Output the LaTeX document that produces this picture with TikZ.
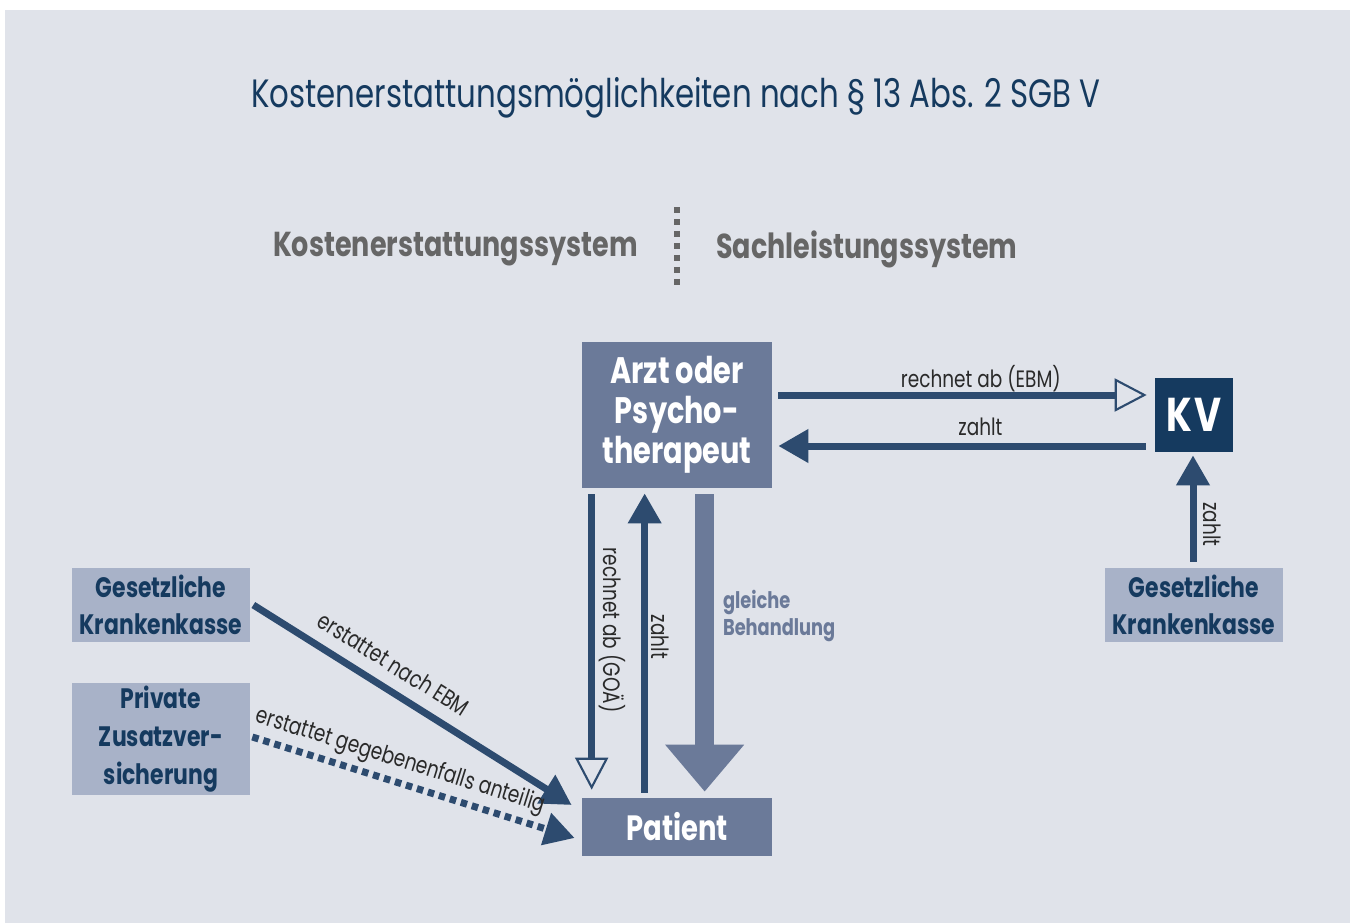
\documentclass[tikz,border=0pt]{standalone}
\usepackage{fontspec}
\setmainfont{Poppins}[FakeStretch=0.78]
\usetikzlibrary{arrows.meta,calc}
\definecolor{bggray}{HTML}{E0E3EA}
\definecolor{navy}{HTML}{153A5F}
\definecolor{arrowblue}{HTML}{2D4B6F}
\definecolor{slate}{HTML}{6B7A99}
\definecolor{lightslate}{HTML}{A8B2C8}
\definecolor{headgray}{HTML}{666666}
\definecolor{lblgray}{HTML}{2A2A2A}

\begin{document}
\begin{tikzpicture}[x=0.02cm,y=-0.02cm,
    box/.style={fill=slate,text=white,font=\bfseries\fontsize{21}{22.7}\selectfont,align=center,inner sep=0pt},
    kasse/.style={fill=lightslate,text=navy,font=\bfseries\fontsize{16}{21.4}\selectfont,align=center,inner sep=0pt,minimum width=3.56cm},
    lbl/.style={text=lblgray,font=\fontsize{13.5}{15}\selectfont,inner sep=2pt},
    flow/.style={draw=arrowblue,line width=0.14cm},
    fullhead/.style={-{Triangle[length=0.6cm,width=0.64cm]}},
    openhead/.style={-{Triangle[open,length=0.64cm,width=0.66cm,line width=1.2pt]}}]
  \fill[bggray] (5,10) rectangle (1350,923);
  \useasboundingbox (0,0) rectangle (1350,923);

  \node[text=navy,font=\fontsize{22.5}{26}\selectfont] (title) at (676,98) {Kostenerstattungsmöglichkeiten nach § 13 Abs. 2 SGB V};
  \node[text=headgray,font=\bfseries\fontsize{19.7}{22}\selectfont,anchor=east,inner sep=0pt] (kesys) at (638,249) {Kostenerstattungssystem};
  \node[text=headgray,font=\bfseries\fontsize{19.7}{22}\selectfont,anchor=west,inner sep=0pt] (slsys) at (716,249) {Sachleistungssystem};
  \draw[headgray,line width=0.12cm,dash pattern=on 0.12cm off 0.12cm] (677,207) -- (677,287);

  \node[box,minimum width=3.8cm,minimum height=2.92cm] (arzt) at (677,415) {Arzt oder\\Psycho-\\therapeut};
  \node[box,fill=navy,font=\bfseries\fontsize{27}{30}\selectfont,minimum width=1.56cm,minimum height=1.48cm] (kv) at (1194,415) {K\kern1.5pt V};
  \node[box,font=\bfseries\fontsize{20}{22.7}\selectfont,minimum width=3.8cm,minimum height=1.16cm] (patient) at (677,827) {Patient};
  \node[kasse,minimum height=1.48cm] (gkvr) at (1194,605) {Gesetzliche\\Krankenkasse};
  \node[kasse,minimum height=1.48cm] (gkvl) at (161,605) {Gesetzliche\\Krankenkasse};
  \node[kasse,minimum height=2.24cm] (pzv) at (161,739) {Private\\Zusatzver-\\sicherung};

  % Sachleistung
  \draw[flow,openhead] ($(arzt.east)+(6,-20)$) -- ($(kv.west)+(-8,-20)$)
    node[lbl,pos=0.55,above,text depth=0pt] {rechnet ab (EBM)};
  \draw[flow,fullhead] ($(kv.west)+(-9,31)$) -- ($(arzt.east)+(6,31)$)
    node[lbl,pos=0.45,above,yshift=2pt] {zahlt};
  \draw[flow,fullhead] ($(gkvr.north)+(-1,-6)$) -- ($(kv.south)+(-1,3)$)
    node[lbl,pos=0.35,rotate=-90,anchor=south,yshift=2pt] {zahlt};

  % Kostenerstattung
  \draw[flow,openhead] ($(arzt.south west)+(10,6)$) -- ($(patient.north west)+(10,-8)$)
    node[lbl,pos=0.46,rotate=-90,anchor=south] {rechnet ab (GOÄ)};
  \draw[flow,fullhead] ($(patient.north west)+(63,-5)$) -- ($(arzt.south west)+(63,5)$)
    node[lbl,pos=0.52,rotate=-90,anchor=south] {zahlt};
  \draw[slate,line width=0.38cm,-{Triangle[length=0.94cm,width=1.52cm]}] ($(arzt.south west)+(123,6)$) -- ($(patient.north west)+(123,-6)$)
    node[pos=0.41,anchor=west,xshift=0.06cm,align=left,text=slate,font=\bfseries\fontsize{13}{15.5}\selectfont] {gleiche\\Behandlung};
  \draw[flow,fullhead] ($(gkvl.east)+(3,0)$) -- ($(patient.west)+(-10,-22)$)
    node[lbl,pos=0.4,above=5pt,sloped] {erstattet nach EBM};
  \draw[flow,fullhead,dash pattern=on 0.13cm off 0.1cm] ($(pzv.east)+(2,-2)$) -- ($(patient.west)+(-7,11)$)
    node[lbl,pos=0.44,above=1pt,sloped] {erstattet gegebenenfalls anteilig};
\end{tikzpicture}
\end{document}
